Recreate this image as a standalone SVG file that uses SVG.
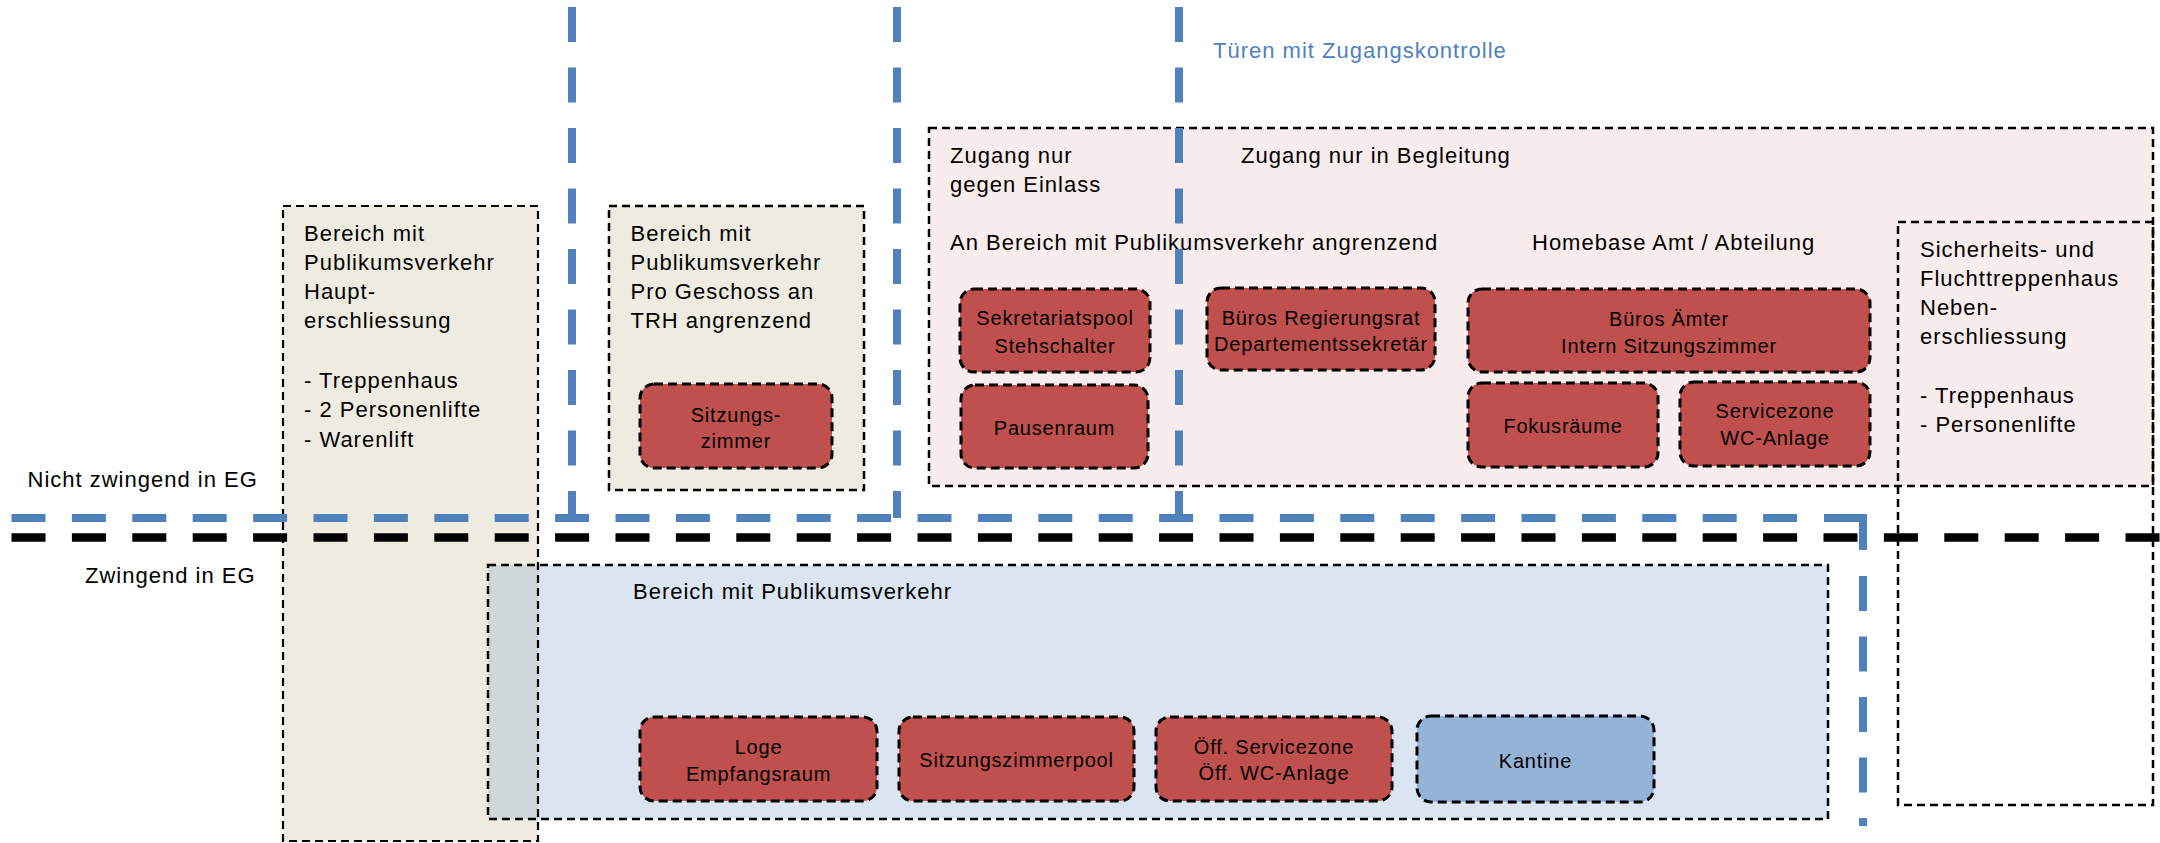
<svg xmlns="http://www.w3.org/2000/svg" width="2160" height="843" viewBox="0 0 2160 843">
<style>
.bg{fill:#ffffff}
.area{stroke:#000;stroke-width:2.5;stroke-dasharray:8 5}
.beige{fill:#eeece1}
.pink{fill:#f8ecec}
.lblue{fill:#dbe5f1}
.node{stroke:#000;stroke-width:3;stroke-dasharray:9 5}
.red{fill:#c0504d}
.mblue{fill:#95b3d7}
.t{font-family:"Liberation Sans",Arial,sans-serif;font-size:22px;letter-spacing:1px;fill:#000}
.n{font-family:"Liberation Sans",Arial,sans-serif;font-size:20px;letter-spacing:0.8px;fill:#000;text-anchor:middle}
.bl{fill:none;stroke:#4f81bd;stroke-width:8}
.blk{fill:none;stroke:#000;stroke-width:8.5}
</style>
<rect class="bg" x="0" y="0" width="2160" height="843"/>

<g id="area-geschoss">
<rect class="pink" x="929" y="128" width="1224" height="358"/>
<rect class="area" x="929" y="128" width="1224" height="358" fill="none"/>
<text class="t" x="950" y="162.5">Zugang nur</text>
<text class="t" x="950" y="191.5">gegen Einlass</text>
<text class="t" x="1241" y="162.5">Zugang nur in Begleitung</text>
<text class="t" x="950" y="250">An Bereich mit Publikumsverkehr angrenzend</text>
<text class="t" x="1532" y="250">Homebase Amt / Abteilung</text>
</g>

<g id="area-fluchttreppenhaus">
<rect class="area" x="1898" y="222" width="255" height="583" fill="none"/>
<text class="t" x="1920" y="256.5">Sicherheits- und</text>
<text class="t" x="1920" y="286">Fluchttreppenhaus</text>
<text class="t" x="1920" y="315">Neben-</text>
<text class="t" x="1920" y="343.5">erschliessung</text>
<text class="t" x="1920" y="403">- Treppenhaus</text>
<text class="t" x="1920" y="431.5">- Personenlifte</text>
</g>

<g id="area-haupterschliessung">
<rect class="beige" x="283" y="206" width="255" height="635"/>
</g>

<g id="area-eg">
<rect class="lblue" x="488" y="565" width="1340" height="254"/>
<rect x="488" y="565" width="50" height="254" fill="#ced8db"/>
<rect class="area" x="488" y="565" width="1340" height="254" fill="none"/>
<text class="t" x="633" y="599">Bereich mit Publikumsverkehr</text>
</g>

<g id="area-haupterschliessung-text">
<rect class="area" x="283" y="206" width="255" height="635" fill="none" style="stroke-width:2.2"/>
<text class="t" x="304" y="241">Bereich mit</text>
<text class="t" x="304" y="270">Publikumsverkehr</text>
<text class="t" x="304" y="299">Haupt-</text>
<text class="t" x="304" y="328">erschliessung</text>
<text class="t" x="304" y="387.5">- Treppenhaus</text>
<text class="t" x="304" y="417">- 2 Personenlifte</text>
<text class="t" x="304" y="446.5">- Warenlift</text>
</g>

<g id="area-trh">
<rect class="beige area" x="609" y="206" width="255" height="284"/>
<text class="t" x="630.5" y="241">Bereich mit</text>
<text class="t" x="630.5" y="270">Publikumsverkehr</text>
<text class="t" x="630.5" y="299">Pro Geschoss an</text>
<text class="t" x="630.5" y="328">TRH angrenzend</text>
</g>

<g id="node-sitzungszimmer">
<rect class="red node" x="640" y="384" width="192" height="84" rx="14"/>
<text class="n" x="736" y="421.5">Sitzungs-</text>
<text class="n" x="736" y="448">zimmer</text>
</g>

<g id="node-sekretariatspool">
<rect class="red node" x="960" y="289" width="190" height="83" rx="14"/>
<text class="n" x="1055" y="325">Sekretariatspool</text>
<text class="n" x="1055" y="353">Stehschalter</text>
</g>

<g id="node-pausenraum">
<rect class="red node" x="961" y="385" width="187" height="83" rx="14"/>
<text class="n" x="1054.5" y="435">Pausenraum</text>
</g>

<g id="node-regierungsrat">
<rect class="red node" x="1207" y="288" width="228" height="82" rx="14"/>
<text class="n" x="1321" y="325">Büros Regierungsrat</text>
<text class="n" x="1321" y="351">Departementssekretär</text>
</g>

<g id="node-aemter">
<rect class="red node" x="1468" y="289" width="402" height="83" rx="14"/>
<text class="n" x="1669" y="326">Büros Ämter</text>
<text class="n" x="1669" y="353">Intern Sitzungszimmer</text>
</g>

<g id="node-fokusraeume">
<rect class="red node" x="1468" y="383" width="190" height="84" rx="14"/>
<text class="n" x="1563" y="433">Fokusräume</text>
</g>

<g id="node-servicezone">
<rect class="red node" x="1680" y="382" width="190" height="84" rx="14"/>
<text class="n" x="1775" y="418">Servicezone</text>
<text class="n" x="1775" y="445">WC-Anlage</text>
</g>

<g id="node-loge">
<rect class="red node" x="640" y="717" width="237" height="84" rx="14"/>
<text class="n" x="758.5" y="754">Loge</text>
<text class="n" x="758.5" y="781">Empfangsraum</text>
</g>

<g id="node-sitzungszimmerpool">
<rect class="red node" x="899" y="717" width="235" height="84" rx="14"/>
<text class="n" x="1016.5" y="767">Sitzungszimmerpool</text>
</g>

<g id="node-oeff-servicezone">
<rect class="red node" x="1156" y="717" width="236" height="84" rx="14"/>
<text class="n" x="1274" y="754">Öff. Servicezone</text>
<text class="n" x="1274" y="779.5">Öff. WC-Anlage</text>
</g>

<g id="node-kantine">
<rect class="mblue node" x="1417" y="716" width="237" height="86" rx="14"/>
<text class="n" x="1535.5" y="767.5">Kantine</text>
</g>

<g id="connectors">
<path class="bl" d="M572 7 V518" stroke-dasharray="35 25.5"/>
<path class="bl" d="M897 7 V518" stroke-dasharray="35 25.5"/>
<path class="bl" d="M1179 7 V518" stroke-dasharray="35 25.5"/>
<path class="bl" d="M11.5 518 H1820" stroke-dasharray="34 26.4"/>
<path class="bl" d="M1824 518 H1863 V550"/>
<path class="bl" d="M1863 576 V826" stroke-dasharray="35 25.5"/>
<path class="blk" d="M11.5 537.5 H2160" stroke-dasharray="34 26.4"/>
</g>

<g id="labels">
<text class="t" x="1213" y="58" style="fill:#4f81bd">Türen mit Zugangskontrolle</text>
<text class="t" x="27.5" y="487">Nicht zwingend in EG</text>
<text class="t" x="85" y="583">Zwingend in EG</text>
</g>
</svg>
